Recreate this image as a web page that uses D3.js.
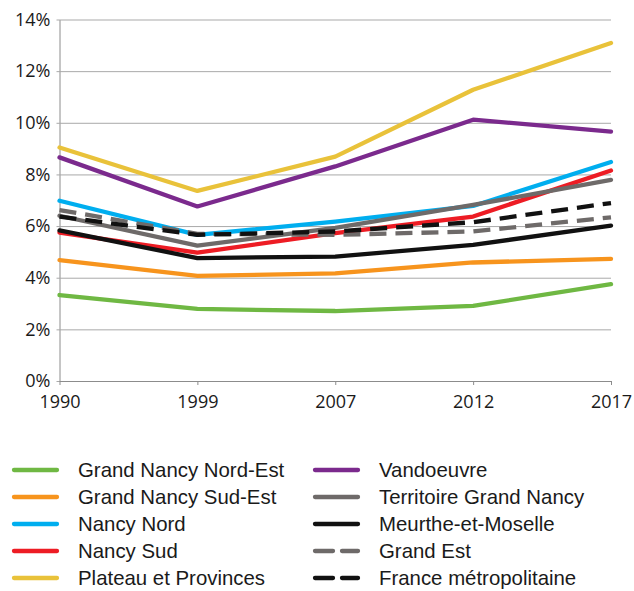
<!DOCTYPE html>
<html>
<head>
<meta charset="utf-8">
<script src="https://cdn.jsdelivr.net/npm/d3@7"></script>
<style>
  body { margin: 0; background: #fff; }
  .y-axis text, .x-axis text { font-family: "Open Sans", sans-serif; font-size: 18px; fill: #1a1a1a; }
  .legend text { font-family: "Liberation Sans", Arial, sans-serif; font-size: 20.4px; fill: #1a1a1a; }
</style>
</head>
<body>
<svg id="graphsvg" width="634" height="591"></svg>
<script>
// years on x axis
var years = ["1990", "1999", "2007", "2012", "2017"];
// y tick labels (percent)
var yTicks = [0, 2, 4, 6, 8, 10, 12, 14];

// series values, in %
var nancyNordEst  = [3.33, 2.79, 2.71, 2.91, 3.75];
var nancySudEst   = [4.68, 4.07, 4.17, 4.59, 4.73];
var nancyNord     = [6.98, 5.66, 6.17, 6.78, 8.48];
var nancySud      = [5.75, 4.97, 5.73, 6.37, 8.15];
var plateau       = [9.04, 7.36, 8.69, 11.28, 13.09];
var vandoeuvre    = [8.66, 6.76, 8.31, 10.12, 9.66];
var territoireGN  = [6.40, 5.24, 5.93, 6.82, 7.79];
var meurthe       = [5.83, 4.76, 4.82, 5.27, 6.02];
var grandEst      = [6.62, 5.70, 5.66, 5.79, 6.34];
var france        = [6.37, 5.66, 5.79, 6.15, 6.89];

var series = [
  {name: "Grand Nancy Nord-Est", values: nancyNordEst, color: "#6fb843", dash: null},
  {name: "Grand Nancy Sud-Est", values: nancySudEst, color: "#f7941d", dash: null},
  {name: "Nancy Nord", values: nancyNord, color: "#00aeef", dash: null},
  {name: "Nancy Sud", values: nancySud, color: "#ed1c24", dash: null},
  {name: "Plateau et Provinces", values: plateau, color: "#e9c23a", dash: null},
  {name: "Vandoeuvre", values: vandoeuvre, color: "#7b2a8d", dash: null},
  {name: "Territoire Grand Nancy", values: territoireGN, color: "#6e6a69", dash: null},
  {name: "Meurthe-et-Moselle", values: meurthe, color: "#111111", dash: null},
  {name: "Grand Est", values: grandEst, color: "#6e6a69", dash: "17,9"},
  {name: "France métropolitaine", values: france, color: "#111111", dash: "17,9"}
];

var svg = d3.select("#graphsvg"),
    margin = {top: 19.5, left: 59.5},
    width = 551.5,
    height = 361.5;

var g = svg.append("g")
  .attr("transform", "translate(" + margin.left + "," + margin.top + ")");

var x = d3.scalePoint().domain(years).range([0, width]);
var y = d3.scaleLinear().domain([0, 14]).range([height, 0]);

// gridlines + y axis
var yAxis = g.append("g")
  .attr("class", "y-axis")
  .call(d3.axisLeft(y).tickValues(yTicks).tickSizeInner(-width).tickSizeOuter(0)
    .tickFormat(function(d) { return d + "%"; }));
yAxis.select(".domain").attr("stroke", "#8c8c8c");
yAxis.selectAll(".tick line").attr("stroke", "#a9a9a9").attr("x1", -3);
yAxis.selectAll(".tick text").attr("x", -9);

var xAxis = g.append("g")
  .attr("class", "x-axis")
  .attr("transform", "translate(0," + height + ")")
  .call(d3.axisBottom(x).tickSizeInner(4).tickSizeOuter(0));
xAxis.select(".domain").attr("stroke", "#8c8c8c");
xAxis.selectAll(".tick line").attr("stroke", "#8c8c8c");
xAxis.selectAll(".tick text").attr("y", 14).attr("dy", ".71em");

var line = d3.line()
  .x(function(d, i) { return x(years[i]); })
  .y(function(d) { return y(d); });

g.append("g")
  .selectAll("path")
  .data(series)
  .enter().append("path")
    .attr("d", function(d) { return line(d.values); })
    .attr("fill", "none")
    .attr("stroke", function(d) { return d.color; })
    .attr("stroke-width", 4.3)
    .attr("stroke-linejoin", "round")
    .attr("stroke-linecap", function(d) { return d.dash ? "butt" : "round"; })
    .attr("stroke-dasharray", function(d) { return d.dash; });

// legend, 2 columns of 5
var legend = svg.append("g").attr("class", "legend");
var item = legend.selectAll("g")
  .data(series)
  .enter().append("g")
    .attr("transform", function(d, i) {
      var col = Math.floor(i / 5), row = i % 5;
      return "translate(" + (14 + col * 301) + "," + (470 + row * 27) + ")";
    });
item.append("line")
  .attr("x1", 0).attr("x2", 43)
  .attr("stroke", function(d) { return d.color; })
  .attr("stroke-width", 4.3)
  .attr("stroke-linecap", "round")
  .attr("stroke-dasharray", function(d) { return d.dash ? "18,9" : null; });
item.append("text")
  .attr("x", 64)
  .attr("dy", "0.36em")
  .text(function(d) { return d.name; });
</script>
</body>
</html>
